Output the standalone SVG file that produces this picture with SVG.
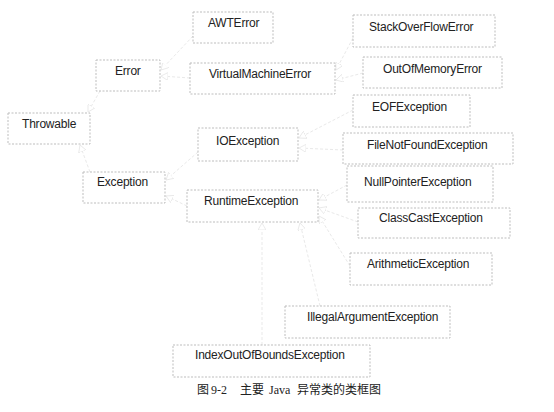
<svg xmlns="http://www.w3.org/2000/svg" width="554" height="412" viewBox="0 0 554 412">
  <defs>
    <marker id="tri" markerWidth="8" markerHeight="8" refX="7" refY="4" orient="auto" markerUnits="userSpaceOnUse">
      <path d="M0,0 L7,4 L0,8 Z" fill="#fff" stroke="#e6e6e6" stroke-width="0.8"/>
    </marker>
  </defs>
  <style>
    .box { fill: none; stroke: #bdbdbd; stroke-width: 1; stroke-dasharray: 2 1.5; }
    .lbl { font-family: "Liberation Sans", Arial, sans-serif; font-size: 12px; fill: #222; letter-spacing: -0.2px; }
    .edge { fill: none; stroke: #e9e9e9; stroke-width: 1; stroke-dasharray: 3 2; marker-end: url(#tri); }
    .cap { font-family: "Liberation Serif", "Noto Sans CJK SC", serif; font-size: 12px; fill: #222; }
  </style>
  <rect width="554" height="412" fill="#fff"/>

  <g id="connectors">
    <path class="edge" d="M193,36 L161,70"/>
    <path class="edge" d="M190,78 L161,76"/>
    <path class="edge" d="M100,91 L88,112"/>
    <path class="edge" d="M90,172 L80,145"/>
    <path class="edge" d="M353,38 L336,70"/>
    <path class="edge" d="M363,73 L336,80"/>
    <path class="edge" d="M353,110 L299,138"/>
    <path class="edge" d="M343,150 L299,148"/>
    <path class="edge" d="M198,152 L166,180"/>
    <path class="edge" d="M187,206 L166,196"/>
    <path class="edge" d="M347,185 L319,200"/>
    <path class="edge" d="M358,222 L319,208"/>
    <path class="edge" d="M350,266 L319,216"/>
    <path class="edge" d="M320,306 L300,223"/>
    <path class="edge" d="M262,345 L262,223"/>
  </g>

  <g id="throwable"><rect class="box" x="8" y="113" width="82" height="31"/><text class="lbl" x="22" y="128">Throwable</text></g>
  <g id="error"><rect class="box" x="96" y="60" width="64" height="31"/><text class="lbl" x="115" y="75">Error</text></g>
  <g id="exception"><rect class="box" x="83" y="172" width="82" height="31"/><text class="lbl" x="97" y="186">Exception</text></g>
  <g id="awterror"><rect class="box" x="193" y="12" width="80" height="31"/><text class="lbl" x="208" y="27">AWTError</text></g>
  <g id="vme"><rect class="box" x="190" y="63" width="145" height="31"/><text class="lbl" x="209" y="78">VirtualMachineError</text></g>
  <g id="ioexception"><rect class="box" x="198" y="128" width="100" height="33"/><text class="lbl" x="216" y="145">IOException</text></g>
  <g id="runtimeexception"><rect class="box" x="187" y="190" width="131" height="32"/><text class="lbl" x="204" y="205">RuntimeException</text></g>
  <g id="stackoverflowerror"><rect class="box" x="353" y="15" width="142" height="32"/><text class="lbl" x="369" y="31">StackOverFlowError</text></g>
  <g id="outofmemoryerror"><rect class="box" x="363" y="57" width="139" height="31"/><text class="lbl" x="383" y="73">OutOfMemoryError</text></g>
  <g id="eofexception"><rect class="box" x="353" y="95" width="117" height="32"/><text class="lbl" x="372" y="111">EOFException</text></g>
  <g id="filenotfoundexception"><rect class="box" x="343" y="133" width="170" height="31"/><text class="lbl" x="367" y="149">FileNotFoundException</text></g>
  <g id="nullpointerexception"><rect class="box" x="347" y="166" width="146" height="36"/><text class="lbl" x="364" y="186">NullPointerException</text></g>
  <g id="classcastexception"><rect class="box" x="358" y="208" width="152" height="30"/><text class="lbl" x="379" y="222">ClassCastException</text></g>
  <g id="arithmeticexception"><rect class="box" x="350" y="253" width="142" height="32"/><text class="lbl" x="367" y="268">ArithmeticException</text></g>
  <g id="illegalargumentexception"><rect class="box" x="285" y="306" width="165" height="32"/><text class="lbl" x="307" y="321">IllegalArgumentException</text></g>
  <g id="indexoutofboundsexception"><rect class="box" x="173" y="345" width="197" height="32"/><text class="lbl" x="195" y="359">IndexOutOfBoundsException</text></g>

  <text class="cap" y="394"><tspan x="197">图</tspan><tspan x="211">9-2</tspan><tspan x="240">主要</tspan><tspan x="269">Java</tspan><tspan x="297">异常类的类框图</tspan></text>
</svg>
